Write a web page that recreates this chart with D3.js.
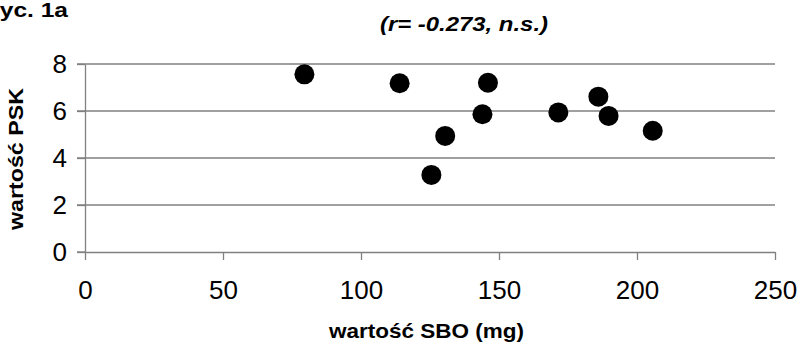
<!DOCTYPE html>
<html lang="pl">
<head>
  <meta charset="UTF-8">
  <title>Ryc. 1a</title>
  <script src="https://d3js.org/d3.v7.min.js"></script>
  <style>
    * { margin: 0; padding: 0; }
    body { background: #fff; width: 799px; height: 346px; overflow: hidden; }
    svg { display: block; font-family: 'Liberation Sans', Arial, sans-serif; }
  </style>
</head>
<body>
  <svg id="chart" width="799" height="346"></svg>
  <script>
  // SBO (mg) vs PSK
  var sboValues = [79.5, 114, 146, 144, 130.5, 125.5, 171.5, 186, 189.7, 205.7];
  var pskValues = [7.56, 7.18, 7.2, 5.86, 4.94, 3.28, 5.94, 6.61, 5.79, 5.16];
  var xTicks = [0, 50, 100, 150, 200, 250];
  var yTicks = [0, 2, 4, 6, 8];

  var svg = d3.select('#chart');

  var x = d3.scaleLinear().domain([0, 250]).range([85, 775]);
  var y = d3.scaleLinear().domain([0, 8]).range([252, 64]);

  var gray = '#808080';

  // gridlines
  svg.append('g')
    .selectAll('line')
    .data(yTicks.filter(function(d) { return d > 0; }))
    .join('line')
    .attr('x1', x(0) - 8).attr('x2', x(250))
    .attr('y1', function(d) { return y(d); })
    .attr('y2', function(d) { return y(d); })
    .attr('stroke', gray)
    .attr('stroke-width', 1.3);

  // axes
  var yAxis = svg.append('g')
    .attr('transform', 'translate(' + x(0) + ',0)')
    .call(d3.axisLeft(y).tickValues(yTicks).tickSize(8).tickSizeOuter(0).tickPadding(10));

  var xAxis = svg.append('g')
    .attr('transform', 'translate(0,' + y(0) + ')')
    .call(d3.axisBottom(x).tickValues(xTicks).tickSize(8).tickSizeOuter(0).tickPadding(21));

  [yAxis, xAxis].forEach(function(a) {
    a.select('.domain').attr('stroke', gray).attr('stroke-width', 1.3);
    a.selectAll('.tick line').attr('stroke', gray).attr('stroke-width', 1.3);
    a.selectAll('.tick text')
      .attr('fill', '#000')
      .style('font-size', '26px')
      .style('font-family', "'Liberation Sans', Arial, sans-serif");
  });
  yAxis.selectAll('.tick text').attr('dy', '0.34em');
  xAxis.selectAll('.tick text').attr('dy', '0.71em');

  // horizontal axis line extends left to the tick
  svg.append('line')
    .attr('x1', x(0) - 8).attr('x2', x(0))
    .attr('y1', y(0)).attr('y2', y(0))
    .attr('stroke', gray).attr('stroke-width', 1.3);

  // points
  svg.append('g')
    .selectAll('circle')
    .data(sboValues.map(function(v, i) { return [v, pskValues[i]]; }))
    .join('circle')
    .attr('cx', function(d) { return x(d[0]); })
    .attr('cy', function(d) { return y(d[1]); })
    .attr('r', 10)
    .attr('fill', '#000');

  // texts
  svg.append('text')
    .attr('x', 68).attr('y', 17)
    .attr('text-anchor', 'end')
    .attr('font-weight', 'bold')
    .attr('font-size', 20)
    .attr('textLength', 86)
    .attr('lengthAdjust', 'spacingAndGlyphs')
    .text('Ryc. 1a');

  svg.append('text')
    .attr('x', 464).attr('y', 31)
    .attr('text-anchor', 'middle')
    .attr('font-weight', 'bold')
    .attr('font-style', 'italic')
    .attr('font-size', 21)
    .attr('textLength', 168)
    .attr('lengthAdjust', 'spacingAndGlyphs')
    .text('(r= -0.273, n.s.)');

  svg.append('text')
    .attr('x', 426.5).attr('y', 338)
    .attr('text-anchor', 'middle')
    .attr('font-weight', 'bold')
    .attr('font-size', 21)
    .attr('textLength', 195)
    .attr('lengthAdjust', 'spacingAndGlyphs')
    .text('wartość SBO (mg)');

  svg.append('text')
    .attr('transform', 'translate(23,159) rotate(-90)')
    .attr('text-anchor', 'middle')
    .attr('font-weight', 'bold')
    .attr('font-size', 21)
    .attr('textLength', 142)
    .attr('lengthAdjust', 'spacingAndGlyphs')
    .text('wartość PSK');
  </script>
</body>
</html>
